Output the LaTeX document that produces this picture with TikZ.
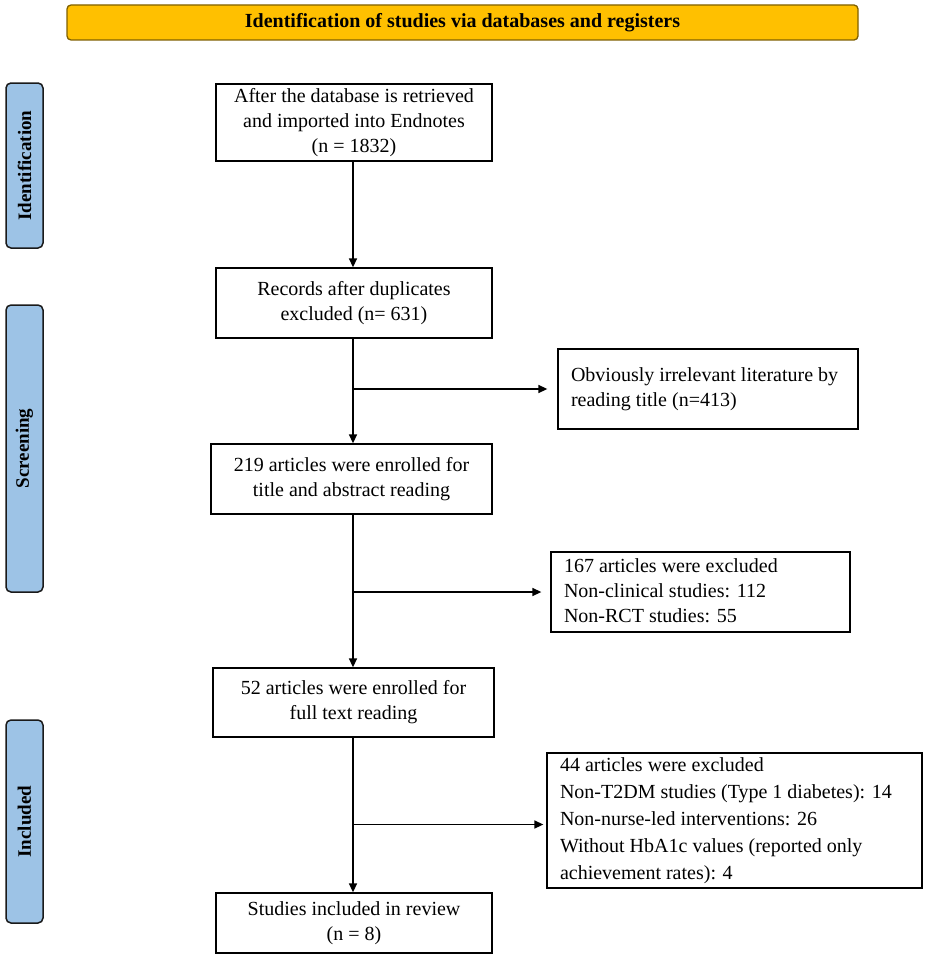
\documentclass[tikz,border=0pt]{standalone}
\usepackage{fontspec}
\setmainfont{Liberation Serif}
\usetikzlibrary{arrows.meta}
\definecolor{gold}{HTML}{FFC000}
\definecolor{goldedge}{HTML}{7F6000}
\definecolor{barblue}{HTML}{9DC3E6}
\definecolor{baredge}{HTML}{1A1A1A}
\newcommand{\leftblock}[2]{\hbox to #1{\begin{tabular}{@{}l@{}}#2\end{tabular}\hss}}
\begin{document}
\begin{tikzpicture}[x=1pt,y=-1pt,
  box/.style={draw=black, line width=1.3pt, inner sep=0pt, align=center, font=\fontsize{20}{25}\selectfont},
  lbox/.style={draw=black, line width=1.3pt, inner sep=0pt, font=\fontsize{20}{25}\selectfont},
  sidebar/.style={draw=baredge, fill=barblue, line width=1.5pt, rounded corners=5pt, rotate=90, minimum height=37pt, inner sep=0pt, font=\fontsize{19}{22}\selectfont\bfseries},
  banner/.style={draw=goldedge, fill=gold, line width=1.3pt, rounded corners=4pt, inner sep=0pt, font=\fontsize{20}{24}\selectfont\bfseries},
  arr/.style={line width=1.5pt, -{Triangle[length=9pt,width=8pt]}},
]
\useasboundingbox (0,0) rectangle (936,958);

\node[banner, minimum width=791pt, minimum height=35pt] (head) at (462.5,22.5) {Identification of studies via databases and registers};

\node[sidebar, minimum width=165pt] (idbar) at (24.5,165.5) {Identification};
\node[sidebar, minimum width=287pt] (scbar) at (24.5,448.5) {Screening};
\node[sidebar, minimum width=203pt] (inbar) at (24.5,821.5) {Included};

\node[box, minimum width=276pt, minimum height=77pt] (b1) at (354,122.5) {After the database is retrieved\\and imported into Endnotes\\(n = 1832)};
\node[box, minimum width=276pt, minimum height=70pt] (b2) at (354,303) {Records after duplicates\\excluded (n= 631)};
\node[lbox, minimum width=300pt, minimum height=80pt] (x1) at (708,389) {\leftblock{274pt}{Obviously irrelevant literature by\\reading title (n=413)}};
\node[box, minimum width=281pt, minimum height=70pt] (b3) at (351.5,479) {219 articles were enrolled for\\title and abstract reading};
\node[lbox, minimum width=299pt, minimum height=80pt] (x2) at (700.5,592) {\leftblock{273pt}{167 articles were excluded\\Non-clinical studies: 112\\Non-RCT studies: 55}};
\node[box, minimum width=281pt, minimum height=69pt] (b4) at (353.5,702.5) {52 articles were enrolled for\\full text reading};
\node[lbox, minimum width=375pt, minimum height=135pt, font=\fontsize{20}{27}\selectfont] (x3) at (734.5,820.5) {\leftblock{349pt}{44 articles were excluded\\Non-T2DM studies (Type 1 diabetes): 14\\Non-nurse-led interventions: 26\\Without HbA1c values (reported only\\achievement rates): 4}};
\node[box, minimum width=276pt, minimum height=60pt] (b5) at (354,923) {Studies included in review\\(n = 8)};

\coordinate (col) at (353,0);
\draw[arr] (b1.south -| col) -- (b2.north -| col);
\draw[arr] (b2.south -| col) -- (b3.north -| col);
\draw[arr] (b3.south -| col) -- (b4.north -| col);
\draw[arr] (b4.south -| col) -- (b5.north -| col);
\draw[arr, shorten >=10pt] (x1.west -| col) -- (x1.west);
\draw[arr, shorten >=9pt] (x2.west -| col) -- (x2.west);
\draw[arr, shorten >=3pt] ([yshift=-4pt]x3.west -| col) -- ([yshift=-4pt]x3.west);
\end{tikzpicture}
\end{document}
